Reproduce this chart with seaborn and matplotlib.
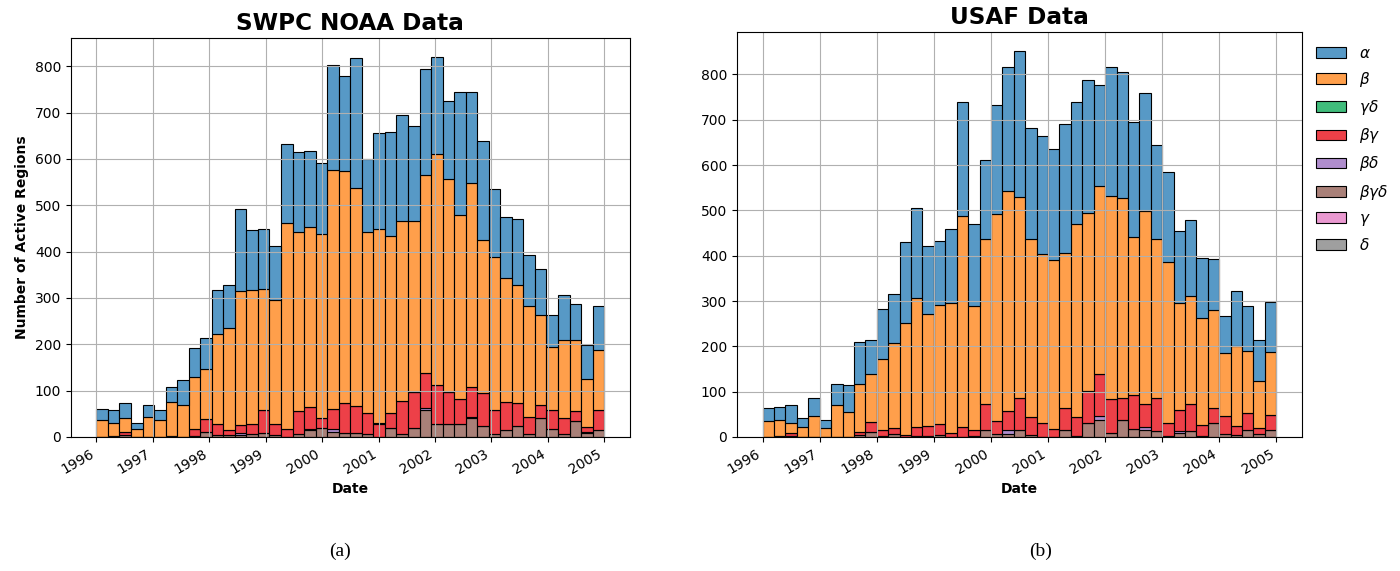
import numpy as np
import pandas as pd
import matplotlib
matplotlib.use("Agg")
import matplotlib.pyplot as plt
import matplotlib.dates as mdates
import seaborn as sns

# Magnetic classes (stack order: first class on top)
classes = [r"$\alpha$", r"$\beta$", r"$\gamma\delta$", r"$\beta\gamma$",
           r"$\beta\delta$", r"$\beta\gamma\delta$", r"$\gamma$", r"$\delta$"]
class_colors = ["#1f77b4", "#ff7f0e", "#00a64f", "#e8000b",
                "#9467bd", "#8c564b", "#e377c2", "#7f7f7f"]

start_date = "1996-01-01"
end_date = "2005-01-01"

# ---- SWPC NOAA: 44 equal-width bins between start_date and end_date ----
noaa_alpha = [25, 27, 34, 13, 27, 22, 31, 55, 61, 66, 96, 94, 175, 128, 129, 116,
              171, 172, 165, 152, 226, 206, 280, 158, 208, 225, 228, 205, 229, 209,
              170, 264, 197, 213, 147, 133, 141, 109, 99, 69, 96, 78, 73, 95]
noaa_beta = [36, 28, 29, 17, 43, 36, 74, 68, 113, 109, 193, 219, 291, 289, 261, 269,
             443, 386, 389, 397, 516, 499, 471, 390, 417, 382, 389, 371, 427, 499,
             458, 398, 440, 332, 330, 266, 255, 240, 194, 136, 170, 153, 103, 129]
noaa_gamma_delta = [0] * 24 + [2] + [0] * 19
noaa_beta_gamma = [0, 2, 6, 0, 0, 0, 1, 1, 14, 27, 25, 12, 17, 22, 49, 23,
                   17, 50, 47, 22, 44, 65, 58, 45, 29, 32, 71, 76, 76, 85,
                   71, 53, 63, 70, 52, 62, 50, 36, 29, 42, 34, 21, 11, 45]
noaa_beta_delta = [0, 0, 0, 0, 0, 0, 0, 0, 0, 0, 0, 0, 4, 0, 0, 0,
                   0, 0, 3, 0, 6, 0, 0, 0, 0, 0, 0, 0, 5, 0,
                   0, 0, 4, 0, 0, 0, 0, 0, 0, 0, 0, 0, 3, 0]
noaa_beta_gamma_delta = [0, 1, 5, 0, 0, 0, 1, 0, 3, 11, 4, 4, 4, 7, 9, 4,
                         1, 6, 14, 20, 11, 9, 9, 7, 0, 20, 7, 20, 58, 27,
                         27, 29, 40, 24, 7, 14, 24, 7, 41, 17, 6, 35, 8, 14]
noaa_gamma = [0] * 44
noaa_delta = [0] * 44

# ---- USAF: 45 equal-width bins between start_date and end_date ----
usaf_alpha = [28, 29, 40, 20, 41, 18, 47, 60, 91, 77, 110, 108, 178, 199, 151, 142,
              164, 252, 182, 175, 241, 275, 321, 244, 262, 245, 285, 269, 293, 223,
              286, 279, 253, 260, 208, 197, 159, 167, 132, 112, 81, 121, 100, 92, 110]
usaf_beta = [35, 36, 22, 21, 46, 20, 69, 55, 108, 106, 158, 188, 248, 284, 247, 262,
             286, 465, 272, 365, 457, 484, 443, 394, 372, 373, 342, 426, 393, 414,
             448, 441, 350, 426, 352, 356, 235, 239, 237, 217, 140, 177, 136, 103, 139]
usaf_gamma_delta = [0] * 45
usaf_beta_gamma = [0, 2, 6, 0, 0, 0, 1, 0, 6, 22, 13, 13, 4, 19, 22, 24,
                   8, 21, 14, 57, 28, 43, 71, 39, 31, 18, 49, 42, 70, 93,
                   74, 49, 74, 50, 72, 29, 46, 59, 24, 32, 40, 20, 38, 14, 32]
usaf_beta_delta = [0] * 21 + [8] + [0] * 7 + [9] + [0] * 3 + [7] + [0] * 2 + [5] + [0] * 8
usaf_beta_gamma_delta = [0, 0, 3, 0, 0, 0, 0, 0, 4, 10, 2, 7, 0, 3, 2, 5,
                         1, 1, 2, 15, 7, 7, 16, 4, 0, 0, 15, 2, 31, 37,
                         9, 37, 18, 15, 13, 2, 9, 13, 2, 31, 6, 4, 16, 6, 16]
usaf_gamma = [0] * 45
usaf_delta = [0] * 45


def long_table(series_list, n_bins):
    """Bin-centre dates with one weighted row per class and bin."""
    lo = mdates.date2num(pd.Timestamp(start_date))
    hi = mdates.date2num(pd.Timestamp(end_date))
    edges = np.linspace(lo, hi, n_bins + 1)
    centres = 0.5 * (edges[:-1] + edges[1:])
    frames = []
    for name, counts in zip(classes, series_list):
        frames.append(pd.DataFrame({"date": centres, "cls": name,
                                    "count": np.asarray(counts, float)}))
    return pd.concat(frames, ignore_index=True), (lo, hi)


noaa_df, noaa_range = long_table(
    [noaa_alpha, noaa_beta, noaa_gamma_delta, noaa_beta_gamma, noaa_beta_delta,
     noaa_beta_gamma_delta, noaa_gamma, noaa_delta], 44)
usaf_df, usaf_range = long_table(
    [usaf_alpha, usaf_beta, usaf_gamma_delta, usaf_beta_gamma, usaf_beta_delta,
     usaf_beta_gamma_delta, usaf_gamma, usaf_delta], 45)

fig = plt.figure(figsize=(14, 5.71), dpi=100)
ax_a = fig.add_axes([0.0507, 0.2347, 0.399, 0.6988])
ax_b = fig.add_axes([0.5264, 0.2347, 0.4036, 0.7093])

for ax, df, n_bins, brange, title, show_legend in [
        (ax_a, noaa_df, 44, noaa_range, "SWPC NOAA Data", False),
        (ax_b, usaf_df, 45, usaf_range, "USAF Data", True)]:
    sns.histplot(data=df, x="date", hue="cls", weights="count", bins=n_bins,
                 binrange=brange, multiple="stack", hue_order=classes,
                 palette=class_colors, edgecolor="black", linewidth=0.8,
                 ax=ax, legend=show_legend)
    ax.grid(True)
    ax.set_title(title, fontsize=16.7, fontweight="bold")
    ax.set_xlabel("Date", fontsize=10, fontweight="bold")
    ax.set_ylabel("")
    ax.set_yticks(np.arange(0, 900, 100))
    ax.xaxis.set_major_locator(mdates.YearLocator())
    ax.xaxis.set_major_formatter(mdates.DateFormatter("%Y"))
    ax.tick_params(labelsize=10)
    plt.setp(ax.get_xticklabels(), rotation=30, ha="right")

ax_a.set_ylabel("Number of Active Regions", fontsize=10, fontweight="bold")

sns.move_legend(ax_b, "upper left", bbox_to_anchor=(1.0, 1.0), frameon=False,
                title=None, fontsize=11, labelspacing=0.6)

fig.text(0.243, 0.035, "(a)", family="Liberation Serif", fontsize=14,
         ha="center", va="center")
fig.text(0.743, 0.035, "(b)", family="Liberation Serif", fontsize=14,
         ha="center", va="center")

fig.savefig("out.png", dpi=100)
